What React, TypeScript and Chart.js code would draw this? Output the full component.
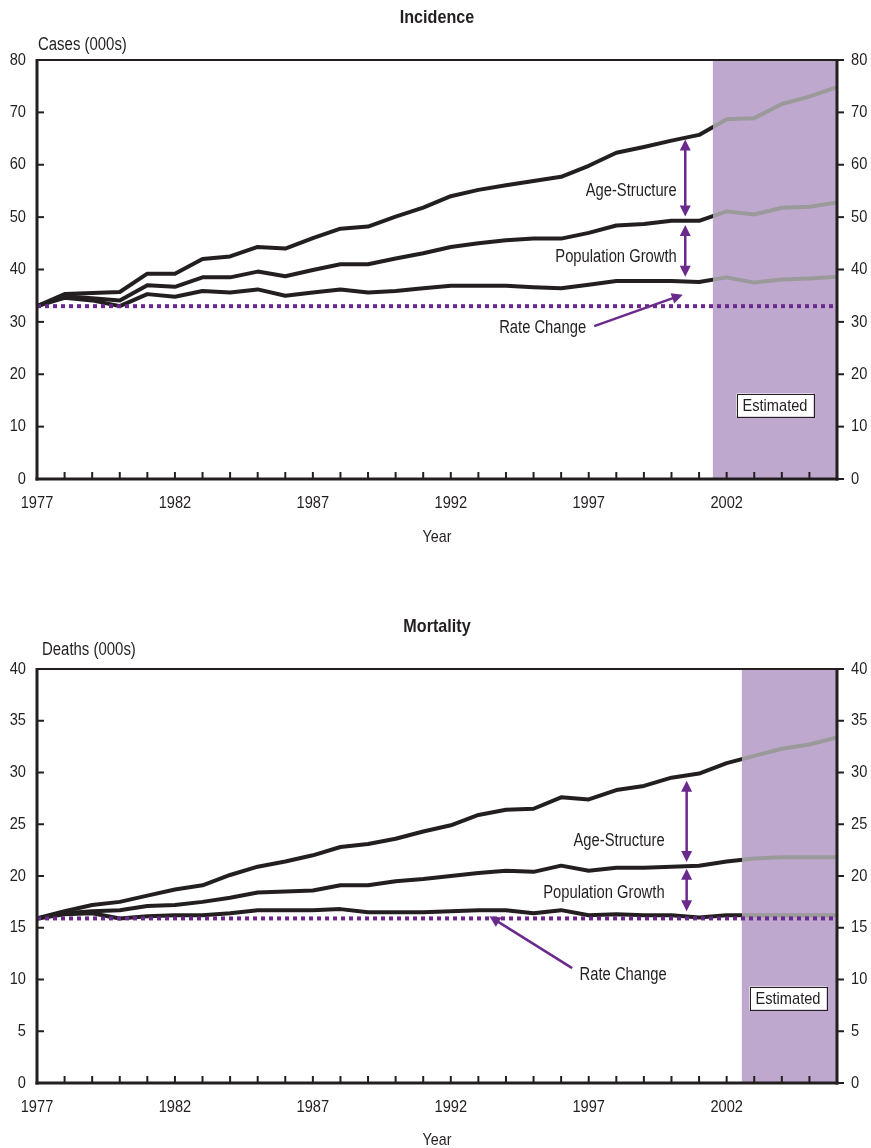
import React, { useEffect, useRef } from 'react';
import { Chart, registerables } from 'chart.js';
Chart.register(...registerables);

// ---------- data ----------
const years = [1977, 1978, 1979, 1980, 1981, 1982, 1983, 1984, 1985, 1986, 1987, 1988, 1989, 1990, 1991,
  1992, 1993, 1994, 1995, 1996, 1997, 1998, 1999, 2000, 2001, 2002, 2003, 2004, 2005, 2006];
const xTickLabels = ['1977', '1982', '1987', '1992', '1997', '2002'];
const baselineYears = [1977, 2006];

const incidenceAgeStructure = [33.0, 35.3, 35.5, 35.7, 39.2, 39.2, 42.0, 42.5, 44.3, 44.0, 46.0, 47.8, 48.2, 50.1, 51.8,
  54.0, 55.2, 56.1, 56.9, 57.7, 59.8, 62.3, 63.4, 64.6, 65.7, 68.7, 68.9, 71.6, 73.0, 74.8];
const incidencePopulationGrowth = [33.0, 34.9, 34.5, 34.1, 37.0, 36.7, 38.5, 38.5, 39.6, 38.7, 39.9, 41.0, 41.0, 42.1, 43.1,
  44.3, 45.0, 45.6, 45.9, 45.9, 47.0, 48.4, 48.7, 49.3, 49.3, 51.1, 50.5, 51.8, 52.0, 52.8];
const incidenceRateChange = [33.0, 34.6, 34.1, 33.0, 35.3, 34.8, 35.9, 35.6, 36.2, 35.0, 35.6, 36.2, 35.6, 35.9, 36.4,
  36.9, 36.9, 36.9, 36.6, 36.4, 37.1, 37.8, 37.8, 37.8, 37.6, 38.5, 37.5, 38.1, 38.3, 38.6];
const incidenceBaseline = 33.0;
const incidenceEstimatedFrom = 2001.5;
const incidenceYTicks = [0, 80, 10]; // min, max, step

const mortalityAgeStructure = [15.9, 16.6, 17.2, 17.5, 18.1, 18.7, 19.1, 20.1, 20.9, 21.4, 22.0, 22.8, 23.1, 23.6, 24.3,
  24.9, 25.9, 26.4, 26.5, 27.6, 27.4, 28.3, 28.7, 29.5, 29.9, 30.9, 31.6, 32.3, 32.7, 33.4];
const mortalityPopulationGrowth = [15.9, 16.4, 16.6, 16.7, 17.1, 17.2, 17.5, 17.9, 18.4, 18.5, 18.6, 19.1, 19.1, 19.5, 19.7,
  20.0, 20.3, 20.5, 20.4, 21.0, 20.5, 20.8, 20.8, 20.9, 21.0, 21.4, 21.7, 21.8, 21.8, 21.8];
const mortalityRateChange = [15.9, 16.3, 16.4, 15.9, 16.1, 16.2, 16.2, 16.4, 16.7, 16.7, 16.7, 16.8, 16.5, 16.5, 16.5,
  16.6, 16.7, 16.7, 16.4, 16.7, 16.2, 16.3, 16.2, 16.2, 16.0, 16.2, 16.2, 16.2, 16.2, 16.2];
const mortalityBaseline = 15.9;
const mortalityEstimatedFrom = 2002.55;
const mortalityYTicks = [0, 40, 5];

// ---------- styles ----------
const DARK = '#231f20';
const GREY = '#9a9a9a';
const PURPLE = '#6a2a8c';
const SHADE = '#bfa8cd';
const FONT = "'Liberation Sans', Arial, Helvetica, sans-serif";

type Label = { text: string; x: number; y: number; align: CanvasTextAlign };
type Spec = {
  height: number; top: number; bottom: number;
  title: string; titleY: number; yLabel: string; yLabelX: number; yLabelY: number; xTitleY: number;
  yTicks: number[]; series: number[][]; baseline: number; shadeStart: number;
  arrows: { x: number; y1: number; y2: number }[];
  rate: { x1: number; y1: number; x2: number; y2: number };
  labels: Label[];
  estimated: { x: number; y: number };
};

const incidenceSpec: Spec = {
  height: 575, top: 60, bottom: 479,
  title: 'Incidence', titleY: 18, yLabel: 'Cases (000s)', yLabelX: 38, yLabelY: 45, xTitleY: 537,
  yTicks: incidenceYTicks,
  series: [incidenceAgeStructure, incidencePopulationGrowth, incidenceRateChange],
  baseline: incidenceBaseline, shadeStart: incidenceEstimatedFrom,
  arrows: [{ x: 2000.5, y1: 64.8, y2: 50.1 }, { x: 2000.5, y1: 48.5, y2: 38.6 }],
  rate: { x1: 1997.2, y1: 29.2, x2: 2000.41, y2: 35.2 },
  labels: [
    { text: 'Age-Structure', x: 2000.19, y: 55.0, align: 'right' },
    { text: 'Population Growth', x: 2000.19, y: 42.4, align: 'right' },
    { text: 'Rate Change', x: 1995.33, y: 28.8, align: 'center' },
  ],
  estimated: { x: 2003.74, y: 14.2 },
};

const mortalitySpec: Spec = {
  height: 573, top: 94, bottom: 508,
  title: 'Mortality', titleY: 52, yLabel: 'Deaths (000s)', yLabelX: 42, yLabelY: 75, xTitleY: 565,
  yTicks: mortalityYTicks,
  series: [mortalityAgeStructure, mortalityPopulationGrowth, mortalityRateChange],
  baseline: mortalityBaseline, shadeStart: mortalityEstimatedFrom,
  arrows: [{ x: 2000.55, y1: 29.2, y2: 21.35 }, { x: 2000.55, y1: 20.7, y2: 16.6 }],
  rate: { x1: 1996.4, y1: 11.1, x2: 1993.4, y2: 16.1 },
  labels: [
    { text: 'Age-Structure', x: 1999.75, y: 23.4, align: 'right' },
    { text: 'Population Growth', x: 1999.75, y: 18.4, align: 'right' },
    { text: 'Rate Change', x: 1996.67, y: 10.4, align: 'left' },
  ],
  estimated: { x: 2004.23, y: 8.24 },
};

// condensed text: draw with a horizontal squeeze
function text(ctx: CanvasRenderingContext2D, s: string, x: number, y: number, align: CanvasTextAlign,
  size: number, sx: number, bold = false) {
  ctx.save();
  ctx.font = `${bold ? 'bold ' : ''}${size}px ${FONT}`;
  ctx.textAlign = align;
  ctx.textBaseline = 'middle';
  ctx.fillStyle = DARK;
  ctx.translate(x, y);
  ctx.scale(sx, 1);
  ctx.fillText(s, 0, 0);
  ctx.restore();
}

function arrowHead(ctx: CanvasRenderingContext2D, x: number, y: number, ang: number, len = 11, w = 5.5) {
  const c = Math.cos(ang), s = Math.sin(ang);
  ctx.beginPath();
  ctx.moveTo(x, y);
  ctx.lineTo(x - len * c + w * s, y - len * s - w * c);
  ctx.lineTo(x - len * c - w * s, y - len * s + w * c);
  ctx.closePath();
  ctx.fill();
}

function makePlugin(spec: Spec) {
  return {
    id: 'decor',
    beforeDatasetsDraw(chart: any) {
      const { ctx, chartArea: a, scales } = chart;
      const xs = scales.x.getPixelForValue(spec.shadeStart);
      ctx.save();
      ctx.fillStyle = SHADE;
      ctx.fillRect(xs, a.top, a.right - xs, a.bottom - a.top);
      ctx.restore();
    },
    afterDatasetsDraw(chart: any) {
      const { ctx, chartArea: a, scales } = chart;
      const X = (v: number) => scales.x.getPixelForValue(v);
      const Y = (v: number) => scales.y.getPixelForValue(v);
      ctx.save();
      ctx.strokeStyle = DARK;
      ctx.lineCap = 'butt';
      // frame
      ctx.lineWidth = 2;
      ctx.beginPath(); ctx.moveTo(a.left, a.top); ctx.lineTo(a.right, a.top); ctx.stroke();
      ctx.lineWidth = 3;
      ctx.beginPath(); ctx.moveTo(a.left, a.top - 1); ctx.lineTo(a.left, a.bottom + 1.5); ctx.stroke();
      ctx.beginPath(); ctx.moveTo(a.right, a.top - 1); ctx.lineTo(a.right, a.bottom + 1.5); ctx.stroke();
      ctx.beginPath(); ctx.moveTo(a.left - 1.5, a.bottom); ctx.lineTo(a.right + 1.5, a.bottom); ctx.stroke();
      // ticks + tick labels
      ctx.lineWidth = 2;
      scales.y.ticks.forEach((t: any) => {
        const py = Y(t.value);
        ctx.beginPath(); ctx.moveTo(a.left, py); ctx.lineTo(a.left + 7, py); ctx.stroke();
        ctx.beginPath(); ctx.moveTo(a.right, py); ctx.lineTo(a.right + 7, py); ctx.stroke();
        text(ctx, String(t.value), a.left - 11, py, 'right', 17, 0.86);
        text(ctx, String(t.value), a.right + 14, py, 'left', 17, 0.86);
      });
      scales.x.ticks.forEach((t: any) => {
        const px = X(t.value);
        ctx.beginPath(); ctx.moveTo(px, a.bottom); ctx.lineTo(px, a.bottom - 7); ctx.stroke();
        const lbl = String(t.value);
        if (xTickLabels.includes(lbl)) text(ctx, lbl, px, a.bottom + 24, 'center', 17, 0.86);
      });
      // arrows
      ctx.strokeStyle = PURPLE;
      ctx.fillStyle = PURPLE;
      ctx.lineWidth = 2.5;
      spec.arrows.forEach((ar) => {
        const px = X(ar.x), p1 = Y(ar.y1), p2 = Y(ar.y2);
        ctx.beginPath(); ctx.moveTo(px, p1 + 9); ctx.lineTo(px, p2 - 9); ctx.stroke();
        arrowHead(ctx, px, p1, -Math.PI / 2);
        arrowHead(ctx, px, p2, Math.PI / 2);
      });
      {
        const r = spec.rate;
        const x1 = X(r.x1), y1 = Y(r.y1), x2 = X(r.x2), y2 = Y(r.y2);
        const ang = Math.atan2(y2 - y1, x2 - x1);
        ctx.beginPath(); ctx.moveTo(x1, y1); ctx.lineTo(x2 - 9 * Math.cos(ang), y2 - 9 * Math.sin(ang)); ctx.stroke();
        arrowHead(ctx, x2, y2, ang);
      }
      // annotation labels
      spec.labels.forEach((l) => text(ctx, l.text, X(l.x), Y(l.y), l.align, 18, 0.82));
      // estimated box
      {
        const cx = Math.round(X(spec.estimated.x)), cy = Math.round(Y(spec.estimated.y));
        const w = 77, h = 23;
        ctx.fillStyle = '#ffffff';
        ctx.fillRect(cx - w / 2, cy - h / 2, w, h);
        ctx.strokeStyle = DARK; ctx.lineWidth = 1;
        ctx.strokeRect(Math.round(cx - w / 2) + 0.5, Math.round(cy - h / 2) + 0.5, w, h);
        text(ctx, 'Estimated', cx, cy + 1, 'center', 17, 0.86);
      }
      // titles
      const mid = (a.left + a.right) / 2;
      text(ctx, spec.title, mid, spec.titleY, 'center', 19, 0.85, true);
      text(ctx, 'Year', mid, spec.xTitleY, 'center', 17, 0.84);
      text(ctx, spec.yLabel, spec.yLabelX, spec.yLabelY, 'left', 18, 0.83);
      ctx.restore();
    },
  };
}

const lineColor = (shadeStart: number) => (c: any) => {
  const chart = c.chart;
  const a = chart.chartArea;
  if (!a) return DARK;
  const xs = chart.scales.x.getPixelForValue(shadeStart);
  const f = Math.min(1, Math.max(0, (xs - a.left) / (a.right - a.left)));
  const g = chart.ctx.createLinearGradient(a.left, 0, a.right, 0);
  g.addColorStop(0, DARK); g.addColorStop(f, DARK); g.addColorStop(f, GREY); g.addColorStop(1, GREY);
  return g;
};

function LineChart({ spec }: { spec: Spec }) {
  const ref = useRef<HTMLCanvasElement>(null);
  useEffect(() => {
    const [yMin, yMax, yStep] = spec.yTicks;
    const datasets: any[] = [
      {
        data: baselineYears.map((x) => ({ x, y: spec.baseline })),
        borderColor: PURPLE, borderWidth: 4, borderDash: [4, 4], borderCapStyle: 'butt',
        pointRadius: 0,
      },
      ...spec.series.map((s) => ({
        data: years.map((x, i) => ({ x, y: s[i] })),
        borderColor: lineColor(spec.shadeStart), borderWidth: 4, borderJoinStyle: 'round',
        pointRadius: 0, tension: 0,
      })),
    ];
    const chart = new Chart(ref.current as HTMLCanvasElement, {
      type: 'line',
      data: { datasets },
      options: {
        animation: false,
        responsive: false,
        devicePixelRatio: 1,
        layout: { padding: { top: spec.top, left: 0, right: 0, bottom: 0 } },
        plugins: { legend: { display: false }, tooltip: { enabled: false }, title: { display: false } },
        scales: {
          x: {
            type: 'linear', min: 1977, max: 2006,
            grid: { display: false }, border: { display: false },
            ticks: { display: false, stepSize: 1, autoSkip: false },
            afterFit: (s: any) => { s.height = spec.height - spec.bottom; },
          },
          y: {
            position: 'left', min: yMin, max: yMax,
            grid: { display: false }, border: { display: false },
            ticks: { display: false, stepSize: yStep },
            afterFit: (s: any) => { s.width = 37; },
          },
          y2: {
            position: 'right', min: yMin, max: yMax,
            grid: { display: false }, border: { display: false },
            ticks: { display: false, stepSize: yStep },
            afterFit: (s: any) => { s.width = 34; },
          },
        },
      } as any,
      plugins: [makePlugin(spec)],
    });
    return () => chart.destroy();
  }, [spec]);
  return (
    <canvas ref={ref} width={871} height={spec.height}
      style={{ display: 'block', width: 871, height: spec.height }} />
  );
}

export default function App() {
  return (
    <div style={{ position: 'absolute', left: 0, top: 0, width: 871, height: 1148, background: '#fff', overflow: 'hidden' }}>
      <LineChart spec={incidenceSpec} />
      <LineChart spec={mortalitySpec} />
    </div>
  );
}
